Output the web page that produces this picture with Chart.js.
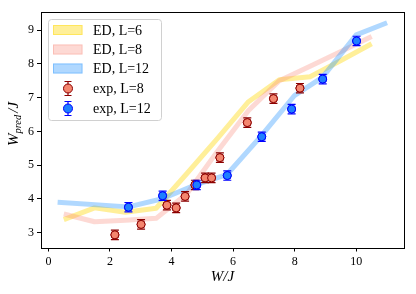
<!DOCTYPE html>
<html>
<head>
<meta charset="utf-8">
<script src="https://cdn.jsdelivr.net/npm/chart.js@4/dist/chart.umd.min.js"></script>
<style>
  html, body { margin: 0; padding: 0; background: #fff; }
  #wrap { width: 416px; height: 294px; position: relative; }
</style>
</head>
<body>
<div id="wrap"><canvas id="chart" width="416" height="294"></canvas></div>
<script>
// ── Data ──────────────────────────────────────────────────────
const edW      = [0.5, 1.5, 2.5, 3.5, 4.5, 5.5, 6.5, 7.5, 8.5, 9.5, 10.5];
const edL6     = [3.38, 3.73, 3.60, 3.72, 4.75, 5.80, 6.88, 7.53, 7.62, 8.10, 8.60];
const edL8     = [3.55, 3.32, 3.36, 3.42, 4.15, 5.42, 6.62, 7.50, 7.93, 8.37, 8.81];
const edW12    = [0.3, 2.6, 3.7, 4.8, 5.8, 6.9, 8.0, 8.9, 10.0, 11.0];
const edL12    = [3.90, 3.76, 4.00, 4.42, 4.72, 5.85, 7.07, 7.60, 8.86, 9.22];

const expW8    = [2.16, 3.01, 3.85, 4.15, 4.44, 4.76, 5.09, 5.30, 5.57, 6.46, 7.31, 8.17];
const expL8    = [2.93, 3.24, 3.81, 3.73, 4.07, 4.41, 4.62, 4.62, 5.22, 6.26, 6.97, 7.28];
const expErr8  = [0.14, 0.14, 0.14, 0.14, 0.14, 0.14, 0.14, 0.14, 0.14, 0.14, 0.14, 0.14];
const expW12   = [2.60, 3.71, 4.82, 5.81, 6.93, 7.90, 8.91, 10.01];
const expL12   = [3.75, 4.09, 4.41, 4.69, 5.84, 6.66, 7.55, 8.68];
const expErr12 = [0.14, 0.14, 0.14, 0.14, 0.14, 0.14, 0.14, 0.14];

const xTicks = [0, 2, 4, 6, 8, 10];
const yTicks = [3, 4, 5, 6, 7, 8, 9];

const FONT = "'Liberation Serif', 'DejaVu Serif', serif";

const C6  = 'rgba(255, 215, 0, 0.40)';
const C8  = 'rgba(250, 128, 114, 0.30)';
const C12 = 'rgba(30, 144, 255, 0.35)';

function pts(xs, ys) {
    return xs.map((x, i) => ({ x: x, y: ys[i] }));
}

// ── Plugins ───────────────────────────────────────────────────
const errorBars = {
    id: 'errorBars',
    afterDatasetsDraw(chart) {
        const ctx = chart.ctx;
        const ys = chart.scales.y;
        // draw in reverse so dataset 0 ends on top, like the library does
        for (let i = chart.data.datasets.length - 1; i >= 0; i--) {
            const ds = chart.data.datasets[i];
            if (!ds.errors) continue;
            const meta = chart.getDatasetMeta(i);
            ctx.save();
            ctx.strokeStyle = ds.pointBorderColor;
            ctx.lineWidth = 1.2;
            meta.data.forEach((p, j) => {
                const v = ds.data[j].y, e = ds.errors[j];
                const top = ys.getPixelForValue(v + e);
                const bot = ys.getPixelForValue(v - e);
                ctx.beginPath();
                ctx.moveTo(p.x, top); ctx.lineTo(p.x, bot);
                ctx.moveTo(p.x - 4, top); ctx.lineTo(p.x + 4, top);
                ctx.moveTo(p.x - 4, bot); ctx.lineTo(p.x + 4, bot);
                ctx.stroke();
            });
            ctx.restore();
            // redraw markers over the bars
            meta.data.forEach(p => p.draw(ctx, chart.chartArea));
        }
    }
};

const frameAndLabels = {
    id: 'frameAndLabels',
    afterDraw(chart) {
        const ctx = chart.ctx;
        const a = chart.chartArea;
        ctx.save();
        ctx.strokeStyle = '#000';
        ctx.lineWidth = 1;
        ctx.strokeRect(Math.round(a.left) + 0.5, Math.round(a.top) + 0.5,
                       Math.round(a.right - a.left), Math.round(a.bottom - a.top));

        // x label
        ctx.fillStyle = '#000';
        ctx.textBaseline = 'alphabetic';
        ctx.textAlign = 'left';
        ctx.font = 'italic 15px ' + FONT;
        const xl = 'W/J';
        const xw = ctx.measureText(xl).width;
        ctx.fillText(xl, (a.left + a.right) / 2 - xw / 2, 281);

        // y label with subscript
        ctx.translate(18, 124);
        ctx.rotate(-Math.PI / 2);
        ctx.font = 'italic 15px ' + FONT;
        const wW = ctx.measureText('W').width;
        const wJ = ctx.measureText('/J').width;
        ctx.font = 'italic 10.5px ' + FONT;
        const wS = ctx.measureText('pred').width;
        let x = -(wW + wS + wJ + 2) / 2;
        ctx.font = 'italic 15px ' + FONT;
        ctx.fillText('W', x, 0); x += wW;
        ctx.font = 'italic 10.5px ' + FONT;
        ctx.fillText('pred', x, 3); x += wS + 2;
        ctx.font = 'italic 15px ' + FONT;
        ctx.fillText('/J', x, 0);
        ctx.restore();

        drawLegend(ctx);
    }
};

function drawLegend(ctx) {
    ctx.save();
    const bx = 48.5, by = 19.5, bw = 113, bh = 101, r = 3;
    ctx.beginPath();
    ctx.roundRect(bx, by, bw, bh, r);
    ctx.fillStyle = 'rgba(255,255,255,0.8)';
    ctx.fill();
    ctx.strokeStyle = '#d0d0d0';
    ctx.lineWidth = 1;
    ctx.stroke();

    const rows = [
        { label: 'ED, L=6',   type: 'patch', color: C6 },
        { label: 'ED, L=8',   type: 'patch', color: C8 },
        { label: 'ED, L=12',  type: 'patch', color: C12 },
        { label: 'exp, L=8',  type: 'mark', fill: '#f4866f', edge: '#8b0000' },
        { label: 'exp, L=12', type: 'mark', fill: '#1e7fff', edge: '#0000ff' },
    ];
    const ys = [30, 49.5, 68.5, 88.5, 108.5];
    ctx.font = '14px ' + FONT;
    ctx.textBaseline = 'middle';
    rows.forEach((row, i) => {
        const y = ys[i];
        if (row.type === 'patch') {
            ctx.fillStyle = row.color;
            ctx.fillRect(53, y - 5, 29.5, 10);
            ctx.strokeStyle = row.color;
            ctx.strokeRect(53.5, y - 4.5, 28.5, 9);
        } else {
            ctx.strokeStyle = row.edge;
            ctx.lineWidth = 1.2;
            ctx.beginPath();
            ctx.moveTo(68, y - 7); ctx.lineTo(68, y + 7);
            ctx.moveTo(64.5, y - 7); ctx.lineTo(71.5, y - 7);
            ctx.moveTo(64.5, y + 7); ctx.lineTo(71.5, y + 7);
            ctx.stroke();
            ctx.beginPath();
            ctx.arc(68, y, 4.5, 0, Math.PI * 2);
            ctx.fillStyle = row.fill;
            ctx.fill();
            ctx.lineWidth = 1;
            ctx.stroke();
        }
        ctx.fillStyle = '#000';
        ctx.fillText(row.label, 93, y + 1);
    });
    ctx.restore();
}

// ── Chart ─────────────────────────────────────────────────────
const lineDs = (label, data, color, order) => ({
    label, data, order,
    borderColor: color,
    borderWidth: 5,
    borderCapStyle: 'butt',
    borderJoinStyle: 'round',
    pointRadius: 0,
    tension: 0,
    fill: false,
});

const markDs = (label, data, errors, fill, edge, order) => ({
    label, data, errors, order,
    showLine: false,
    pointRadius: 4,
    pointBorderWidth: 1,
    pointBackgroundColor: fill,
    pointBorderColor: edge,
    pointStyle: 'circle',
});

new Chart(document.getElementById('chart'), {
    type: 'line',
    data: {
        datasets: [
            markDs('exp, L=12', pts(expW12, expL12), expErr12, '#1e7fff', '#0000ff', 0),
            markDs('exp, L=8',  pts(expW8, expL8),  expErr8,  '#f4866f', '#8b0000', 1),
            lineDs('ED, L=12', pts(edW12, edL12), C12, 2),
            lineDs('ED, L=8',  pts(edW, edL8),    C8,  3),
            lineDs('ED, L=6',  pts(edW, edL6),    C6,  4),
        ],
    },
    options: {
        responsive: false,
        animation: false,
        devicePixelRatio: 1,
        layout: { padding: { top: 12, right: 12, left: 0, bottom: 0 } },
        plugins: {
            legend: { display: false },
            tooltip: { enabled: false },
        },
        scales: {
            x: {
                type: 'linear',
                min: -0.24,
                max: 11.55,
                afterBuildTicks: s => { s.ticks = xTicks.map(v => ({ value: v })); },
                afterFit: s => { s.height = 46.5; },
                grid: { drawOnChartArea: false, drawTicks: true, tickLength: 4, color: '#000' },
                border: { display: false },
                ticks: { color: '#000', padding: 3, maxRotation: 0, font: { family: FONT, size: 12 } },
            },
            y: {
                type: 'linear',
                min: 2.555,
                max: 9.54,
                afterBuildTicks: s => { s.ticks = yTicks.map(v => ({ value: v })); },
                afterFit: s => { s.width = 41; },
                grid: { drawOnChartArea: false, drawTicks: true, tickLength: 4, color: '#000' },
                border: { display: false },
                ticks: { color: '#000', padding: 3, font: { family: FONT, size: 12 } },
            },
        },
    },
    plugins: [errorBars, frameAndLabels],
});
</script>
</body>
</html>
